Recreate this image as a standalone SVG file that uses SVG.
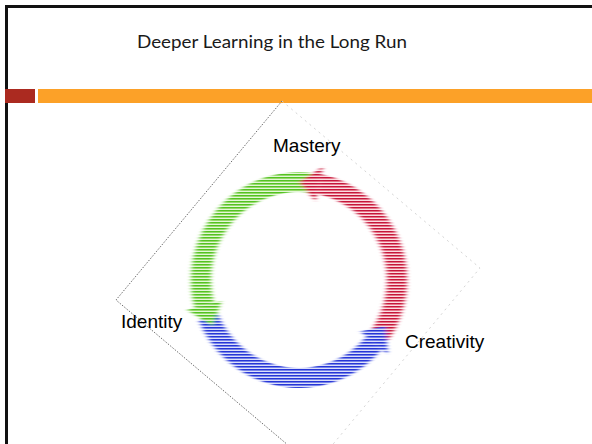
<svg xmlns="http://www.w3.org/2000/svg" width="592" height="444" viewBox="0 0 592 444">
  <style>
    .title { font-family: "Lato", "Liberation Sans", sans-serif; font-size: 18px; fill: #1a1a1a; }
    .label { font-family: "Liberation Sans", Arial, sans-serif; font-size: 19px; fill: #000; }
    .edge-dark { fill: none; stroke: #6e6e6e; stroke-width: 1; stroke-dasharray: 1.5 1.5; }
    .edge-faint { fill: none; stroke: #d4d4d4; stroke-width: 1; stroke-dasharray: 2 4; }
    .shaft { fill: none; stroke-width: 20; }
  </style>
  <defs>
    <pattern id="pGreen" patternUnits="userSpaceOnUse" width="10" height="3">
      <rect width="10" height="3" fill="#a6e07c"/>
      <rect y="0" width="10" height="1.2" fill="#52c224"/>
      <rect y="2" width="10" height="1" fill="#ffffff" fill-opacity="0.7"/>
    </pattern>
    <pattern id="pRed" patternUnits="userSpaceOnUse" width="10" height="3">
      <rect width="10" height="3" fill="#ef8c9c"/>
      <rect y="0" width="10" height="1.2" fill="#c4183a"/>
      <rect y="2" width="10" height="1" fill="#ffffff" fill-opacity="0.7"/>
    </pattern>
    <pattern id="pBlue" patternUnits="userSpaceOnUse" width="10" height="3">
      <rect width="10" height="3" fill="#8a96ee"/>
      <rect y="0" width="10" height="1.2" fill="#2636d6"/>
      <rect y="2" width="10" height="1" fill="#ffffff" fill-opacity="0.7"/>
    </pattern>
    <filter id="hblur" x="-10%" y="-10%" width="120%" height="120%">
      <feGaussianBlur stdDeviation="2 0"/>
    </filter>
  </defs>

  <rect width="592" height="444" fill="#ffffff"/>

  <!-- slide frame -->
  <path d="M6.5 444 V6.5 H592" fill="none" stroke="#111" stroke-width="3"/>

  <!-- title -->
  <text class="title" x="272" y="47.5" text-anchor="middle" textLength="270" lengthAdjust="spacingAndGlyphs">Deeper Learning in the Long Run</text>

  <!-- accent bars -->
  <rect x="5" y="89" width="30" height="14" fill="#ab2a20"/>
  <rect x="38" y="89" width="554" height="14" fill="#fca128"/>

  <!-- rotated dotted square -->
  <g id="frame-square">
    <path class="edge-dark" d="M282 101 L116 300 L314 467"/>
    <path class="edge-faint" d="M282 101 L480 268 L314 467"/>
  </g>

  <!-- cycle arrows -->
  <g id="connectors" filter="url(#hblur)">
    <path id="arc-mastery-identity" class="shaft" stroke="url(#pGreen)" d="M309.2 182.5 A98 98 0 0 0 204.3 305.4"/>
    <path id="arc-identity-creativity" class="shaft" stroke="url(#pBlue)" d="M208.1 316.7 A98 98 0 0 0 374.1 343"/>
    <path id="arc-creativity-mastery" class="shaft" stroke="url(#pRed)" d="M380.2 334.8 A98 98 0 0 0 319.4 184.1"/>
    <polygon fill="url(#pGreen)" points="221.7,300.7 187,310 212.5,326"/>
    <polygon fill="url(#pBlue)" points="360.3,331.4 387.9,354.6 385.5,326"/>
    <polygon fill="url(#pRed)" points="315.6,201.8 323.1,166.5 299,182"/>
  </g>

  <!-- labels -->
  <g id="node-mastery"><text class="label" x="273" y="152">Mastery</text></g>
  <g id="node-identity"><text class="label" x="121" y="328">Identity</text></g>
  <g id="node-creativity"><text class="label" x="405" y="348">Creativity</text></g>
</svg>
